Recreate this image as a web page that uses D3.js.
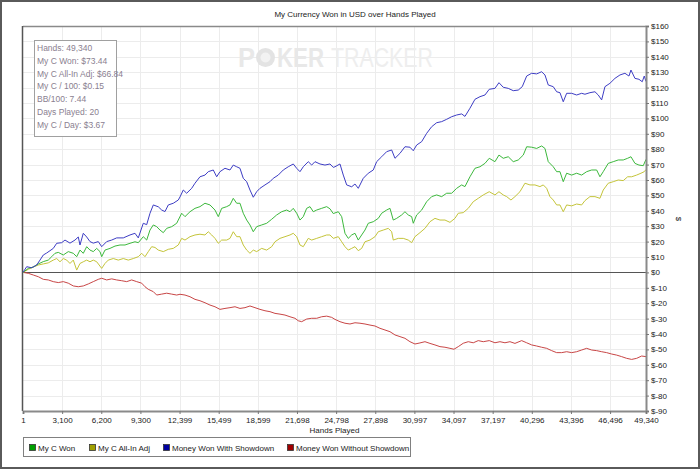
<!DOCTYPE html>
<html><head><meta charset="utf-8">
<script src="https://cdn.jsdelivr.net/npm/d3@7"></script>
<style>
html,body{margin:0;padding:0;background:#fff;}
svg{display:block;}
text{font-family:"Liberation Sans",Arial,sans-serif;}
</style></head>
<body>
<svg id="chart" width="700" height="469"></svg>
<script>
// ---------- data ----------
const title = "My Currency Won in USD over Hands Played";
const xTicks = [1,3100,6200,9300,12399,15499,18599,21698,24798,27898,30997,34097,37197,40296,43396,46496,49340];
const yTicks = [160,150,140,130,120,110,100,90,80,70,60,50,40,30,20,10,0,-10,-20,-30,-40,-50,-60,-70,-80,-90];
const seriesNames = ["My C Won","My C All-In Adj","Money Won With Showdown","Money Won Without Showdown"];
const statLines = ["Hands: 49,340","My C Won: $73.44","My C All-In Adj: $66.84","My C / 100: $0.15","BB/100: 7.44","Days Played: 20","My C / Day: $3.67"];

const blueHands = [1,294,690,1086,1347,1609,1878,2400,2670,3066,3327,3723,4119,4380,4515,4776,5045,5307,5568,5964,6233,6629,7025,7421,7944,8474,8870,9132,9527,9797,10058,10320,10715,10985,11246,11508,11903,12299,12434,12695,12964,13360,13622,14017,14413,14675,15071,15340,15601,15997,16393,16654,16924,17185,17446,17716,17977,18238,18507,18769,19165,19561,19822,20218,20614,21010,21405,21675,21937,22198,22594,22863,23124,23520,23916,24312,24573,24708,25104,25366,25635,26031,26292,26553,26949,27345,27741,28010,28406,28802,29198,29460,29855,30251,30647,30909,31178,31574,31969,32365,32761,33157,33553,33949,34345,34741,35002,35398,35794,36190,36586,36926,37378,37695,38035,38431,38827,39223,39540,39889,40284,40680,41076,41338,41599,41995,42264,42526,42787,43056,43452,43848,44244,44505,44901,45297,45558,45828,46089,46485,46881,47277,47673,47990,48149,48465,48782,49044,49202,49340];
const blueVals = [0,3.7,3,4.8,8,11.3,12.6,15.6,18.9,19.3,21,19,21,23,17.8,25.4,23,20,19,20,16.7,20,21,22.4,22.4,24.3,25.4,22.4,31.9,31,38.4,43.8,42.6,40.5,39.5,43.8,44.9,47,49,53.5,51.4,54.6,57.9,62.1,63.2,65.4,66.5,62.1,65.4,67.6,66.5,69.7,68.6,67.6,61.1,58.9,53.5,48.8,52.4,54.6,56.8,58.9,61.1,63.2,66.5,68.6,70.4,67.6,65.4,68.6,71.9,69.7,71.9,70.4,69.7,70.4,68.2,68.6,70.4,63.2,56.8,55.6,57.4,54.6,61.1,64.4,66.5,71.9,75.1,78.4,79.5,74.1,77.3,81.6,81.3,79,82.7,84.9,90.3,94.6,97.2,97.9,99.4,101.1,102.2,102.9,101.3,106.6,112.4,114.1,115.2,118.9,119.5,123.2,120.2,119.5,118,118.4,120.6,127.5,129.3,128.9,130.3,128.2,121.7,120.6,117.3,116.7,110.8,116.3,116.3,115.2,116.3,115.7,116.7,117.3,115.2,112,120.6,122.8,126,128.2,129.3,127.5,131.4,126,125.4,123.8,127.5,124];

const greenHands = [1,421,817,1213,1609,2004,2274,2535,2796,3192,3588,3984,4253,4515,4776,5045,5307,5568,5837,6099,6233,6495,6891,7287,7683,8079,8474,8870,9132,9527,9797,10058,10320,10589,10850,11112,11381,11777,12173,12299,12568,12830,13226,13622,14017,14413,14809,15205,15467,15736,16132,16393,16654,16924,17185,17446,17716,17977,18238,18507,18903,19299,19695,20091,20487,20883,21144,21405,21675,21937,22198,22467,22729,22990,23260,23655,24051,24312,24573,24969,25239,25500,25761,26031,26292,26553,26822,27084,27345,27741,28137,28406,28802,29064,29325,29594,29990,30251,30513,30782,30909,31178,31574,31969,32365,32761,33157,33553,33949,34345,34741,35002,35398,35794,36190,36586,36926,37378,37695,38035,38431,38827,39223,39619,39889,40284,40680,41076,41338,41599,41995,42264,42526,42787,43056,43452,43848,44244,44640,45036,45432,45693,45954,46350,46746,47142,47538,47887,48149,48465,48782,49123,49340];
const greenVals = [0,2.6,3.5,5.5,7,8,10.2,12.4,13,11.3,13.5,12.4,10.2,14.5,12.4,16.7,14.5,13.5,15.6,13.5,10.2,14.5,15.6,17.1,17.8,17.8,18.9,19.9,19.3,23.2,21,27.5,30.8,29.7,27.5,25.8,28.6,29.7,31.9,34,38.4,36.2,39.4,41.6,42.7,44.9,43.8,40.5,36.2,41.6,42.7,43.8,48.1,44.9,44.9,38.4,34,30.8,26.4,29.7,30.8,31.9,34.5,37.3,39.4,40.5,39.4,41.6,38.4,34,36.2,41.6,42.7,39.4,40.5,41.6,42.7,41.3,38.2,39.4,36.2,25.4,22.1,24.3,25.4,21,24.3,27.5,31.9,32.9,35.1,38.4,40.5,41.6,34,35.1,37.3,39.4,37.3,36.2,31.9,37.3,40.5,45.9,49.2,50.3,49.2,51.4,51.4,54.6,56.8,55.7,62.1,67.6,68.6,70.8,74.1,71.9,76.2,74.1,75.1,71.9,73,76.2,81.6,81.3,80.5,82.1,80.5,71.9,68.6,65.4,65.4,58.9,64.4,63.2,64.4,63.2,65.4,66.5,66.5,62.1,65.4,70.8,71.9,73,73,74.1,75.1,70.8,69.7,69.3,73.4];

const yellowHands = [1,421,817,1213,1609,2004,2400,2670,2931,3192,3462,3723,3984,4253,4515,4776,5045,5307,5568,5837,6233,6495,6756,7152,7548,7944,8340,8736,9132,9401,9662,9924,10193,10454,10715,11112,11508,11903,12299,12568,12830,13226,13622,14017,14413,14675,14944,15205,15467,15736,16132,16393,16654,16924,17185,17446,17716,17977,18238,18507,18903,19299,19695,19957,20353,20749,21144,21405,21675,21937,22198,22594,22863,23260,23655,24051,24312,24573,24969,25239,25500,25761,26031,26292,26553,26822,27084,27480,27876,28137,28533,28929,29198,29325,29721,30117,30513,30782,31043,31439,31835,32231,32627,33023,33419,33815,34211,34472,34868,35264,35660,36056,36452,36926,37378,37695,38035,38305,38645,38962,39357,39753,40149,40545,40941,41203,41472,41733,41995,42264,42526,42787,43056,43452,43848,44244,44505,44901,45297,45693,45954,46350,46746,47142,47538,47887,48204,48600,48941,49202,49340];
const yellowVals = [0,2,3.5,4.8,5.5,6.2,8,9,6.9,9,8,5.8,8,1.5,5.8,6.9,8,6.9,8,6.9,2.6,5.8,8,9,8,9,8,9,10.2,12.4,10.2,13.5,16.7,16.2,14.5,13.5,15,15.6,17.8,22.1,21,23.2,24.3,24.8,24.3,26.4,24.3,22.1,18.9,21,21,22.1,26.4,23.2,23.2,17.8,14.5,12.4,14.5,13.5,15.6,14.5,16.7,19.9,22.1,23.2,24.3,25.4,23.2,17.8,16.7,22.1,21,22.1,23.2,24.3,24.3,22.1,23.2,19.9,16.7,14.5,15.6,16.7,14.1,15.6,19.9,21,23.2,26.4,27.5,28.6,26.4,21,22.1,22.1,21,19.3,23.2,25.8,28.6,32.9,35.1,34,34,32.5,35.1,38.4,38.8,41.6,45.9,48.1,50.3,52.4,50.3,52.4,50.3,49.2,47,49.2,52.4,57.9,56.8,56.8,55.7,56.8,54.6,49.2,47,43.8,43.8,39.4,43.8,43.2,44.4,43.8,46.6,49.2,49.2,48.1,53.5,57.9,58.9,60,59.6,62.1,62.1,63.2,64.4,65.4,66.8];

const redHands = [1,421,817,1213,1609,2004,2400,2796,3192,3588,3984,4380,4776,5172,5568,5964,6233,6629,7025,7421,7817,8213,8609,9005,9401,9662,9924,10320,10589,10985,11381,11777,12173,12434,12830,13226,13622,14017,14413,14809,15205,15601,15997,16393,16789,17185,17581,17977,18373,18769,19165,19561,19957,20353,20749,21144,21540,21802,22071,22467,22863,23260,23655,24051,24447,24708,25104,25500,25896,26292,26688,27084,27480,27876,28272,28668,29064,29460,29855,30251,30647,31043,31439,31835,32231,32627,33023,33419,33815,34132,34472,34868,35264,35660,36056,36452,36926,37378,37774,38170,38566,38962,39493,39889,40284,40680,41076,41472,41868,42264,42660,43056,43452,43848,44244,44640,45036,45432,45828,46224,46620,47015,47411,47807,48204,48600,48996,49340];
const redVals = [0,-0.6,-1.7,-2.8,-4.5,-4.9,-6,-6.6,-6,-7,-8.8,-9.3,-8.8,-7.5,-6,-4.5,-3.8,-4.9,-4.2,-4.9,-5.4,-6,-4.9,-6,-7,-9.3,-11,-12.5,-14.7,-14.1,-13.5,-14.1,-14.7,-14.2,-14.7,-15.8,-17.5,-18.4,-19.7,-21.2,-22.3,-24,-23.4,-22.9,-22.3,-23.4,-22.9,-21.8,-22.9,-24,-24.9,-25.5,-26.6,-27.1,-27.7,-28.8,-29.8,-31.4,-32,-30.3,-29.8,-29.8,-28.8,-28.4,-29.2,-30.5,-32,-33,-33.5,-32.7,-33,-33.5,-34.2,-34.8,-36.3,-37.4,-38.5,-40.6,-41.7,-42.8,-45,-46.5,-45.8,-45,-46.1,-47.1,-48.2,-48.6,-49.3,-49.9,-48.2,-46,-45,-45.7,-44.3,-45,-44.3,-45.7,-45,-45.7,-45,-46.1,-44.3,-45.7,-47.1,-47.8,-48.6,-49.3,-50.8,-52.1,-52.1,-51.5,-52.1,-51.5,-50.4,-49.3,-50.4,-50.8,-51.5,-52.1,-53,-53.7,-54.7,-55.8,-56.5,-55.8,-54.3,-54.7];

const lineColors = ["#3cb83c","#c4c43a","#3d3dc4","#c84646"];
const swatchColors = ["#00a000","#a0a000","#0000a0","#a00000"];

// ---------- layout ----------
const W = 700, H = 469;
const plot = {left:23, right:646, top:26, bottom:411};
const FS = 8;
const svg = d3.select("#chart");

svg.append("rect").attr("x",1).attr("y",1).attr("width",W-2).attr("height",H-2)
  .attr("fill","#fff").attr("stroke","#5a5a5a").attr("stroke-width",2);

svg.append("text").attr("x",355).attr("y",17).attr("text-anchor","middle")
  .attr("font-size",FS).attr("fill","#222").text(title);

const x = d3.scaleLinear().domain([1,49340]).range([plot.left, plot.right]);
const y = d3.scaleLinear().domain([-90,160]).range([plot.bottom, plot.top]);

// grid
const g = svg.append("g");
g.selectAll(".vg").data(xTicks.slice(1,-1)).join("line")
  .attr("x1",d=>Math.round(x(d))+0.5).attr("x2",d=>Math.round(x(d))+0.5)
  .attr("y1",plot.top).attr("y2",plot.bottom).attr("stroke","#ececec").attr("stroke-width",1);
g.selectAll(".hg").data(yTicks.filter(d=>d!==160&&d!==-90&&d!==0)).join("line")
  .attr("x1",plot.left).attr("x2",plot.right)
  .attr("y1",d=>Math.round(y(d))+0.5).attr("y2",d=>Math.round(y(d))+0.5)
  .attr("stroke","#ececec").attr("stroke-width",1);

// watermark (separate pieces so nothing overlaps)
const wmG = svg.append("g");
wmG.append("text").attr("x",238).attr("y",67).attr("font-size",27).attr("font-weight","bold")
  .attr("fill","#e8e8e8").attr("textLength",17).attr("lengthAdjust","spacingAndGlyphs").text("P");
wmG.append("circle").attr("cx",265.5).attr("cy",57.5).attr("r",9.5).attr("fill","#e3e3e3");
wmG.append("circle").attr("cx",265.5).attr("cy",57.5).attr("r",5).attr("fill","#f2f2f2");
wmG.append("text").attr("x",277).attr("y",67).attr("font-size",27).attr("font-weight","bold")
  .attr("fill","#e8e8e8").attr("textLength",47).attr("lengthAdjust","spacingAndGlyphs").text("KER");
wmG.append("text").attr("x",331).attr("y",67).attr("font-size",27)
  .attr("fill","#eeeeee").attr("textLength",102).attr("lengthAdjust","spacingAndGlyphs").text("TRACKER");

// zero line
svg.append("line").attr("x1",plot.left).attr("x2",plot.right)
  .attr("y1",Math.round(y(0))+0.5).attr("y2",Math.round(y(0))+0.5)
  .attr("stroke","#555").attr("stroke-width",1);

// plot frame (top, left)
svg.append("line").attr("x1",plot.left).attr("x2",plot.right).attr("y1",plot.top+0.5).attr("y2",plot.top+0.5)
  .attr("stroke","#8a8a8a").attr("stroke-width",1.5);
svg.append("line").attr("x1",plot.left-0.5).attr("x2",plot.left-0.5).attr("y1",plot.top).attr("y2",plot.bottom)
  .attr("stroke","#555").attr("stroke-width",1.5);

// lines
const series = [
  {h:greenHands, v:greenVals},
  {h:yellowHands, v:yellowVals},
  {h:blueHands, v:blueVals},
  {h:redHands, v:redVals}
];
const lineGen = d3.line().x(d=>x(d[0])).y(d=>y(d[1]));
const drawOrder = [3,1,0,2];
drawOrder.forEach(i=>{
  const s = series[i];
  svg.append("path").datum(s.h.map((h,k)=>[h,s.v[k]]))
    .attr("d",lineGen).attr("fill","none").attr("stroke",lineColors[i])
    .attr("stroke-width",1).attr("stroke-linejoin","round");
});

// right axis
const yAxis = d3.axisRight(y).tickValues(yTicks).tickSize(3).tickPadding(2)
  .tickFormat(d=>"$"+d);
const ya = svg.append("g").attr("transform",`translate(${plot.right},0)`).call(yAxis);
ya.select(".domain").attr("stroke","#8a8a8a").attr("stroke-width",2);
ya.selectAll(".tick line").attr("stroke","#777");
ya.selectAll("text").attr("font-size",FS).attr("fill","#222").attr("font-family","Liberation Sans, Arial, sans-serif");

svg.append("text").attr("transform","translate(676,219) rotate(90)")
  .attr("text-anchor","middle").attr("font-size",FS).attr("fill","#222").text("$");

// bottom axis
const xAxis = d3.axisBottom(x).tickValues(xTicks).tickSize(3).tickPadding(3)
  .tickFormat(d3.format(","));
const xa = svg.append("g").attr("transform",`translate(0,${plot.bottom})`).call(xAxis);
xa.select(".domain").attr("stroke","#8a8a8a").attr("stroke-width",2);
xa.selectAll(".tick line").attr("stroke","#777");
xa.selectAll("text").attr("font-size",FS).attr("fill","#222").attr("font-family","Liberation Sans, Arial, sans-serif");

svg.append("text").attr("x",(plot.left+plot.right)/2).attr("y",433).attr("text-anchor","middle")
  .attr("font-size",FS).attr("fill","#222").text("Hands Played");

// stats box
const sb = svg.append("g");
sb.append("rect").attr("x",34.5).attr("y",40.5).attr("width",82).attr("height",96)
  .attr("fill","#fff").attr("stroke","#a0a0a0").attr("stroke-width",1);
sb.selectAll("text").data(statLines).join("text")
  .attr("x",37).attr("y",(d,i)=>51+i*12.8).attr("font-size",8.5)
  .attr("font-family","Open Sans, sans-serif").attr("fill","#8a8090").text(d=>d);

// legend
const lg = svg.append("g");
lg.append("rect").attr("x",23.5).attr("y",437.5).attr("width",387).attr("height",19)
  .attr("fill","#fff").attr("stroke","#808080").attr("stroke-width",1);
const legendX = [29,89,163,287];
seriesNames.forEach((n,i)=>{
  lg.append("rect").attr("x",legendX[i]+0.5).attr("y",444.5).attr("width",6).attr("height",6)
    .attr("fill",swatchColors[i]).attr("stroke","#333").attr("stroke-width",0.8);
  lg.append("text").attr("x",legendX[i]+9).attr("y",450.5).attr("font-size",FS)
    .attr("fill","#222").text(n);
});
</script>
</body></html>
